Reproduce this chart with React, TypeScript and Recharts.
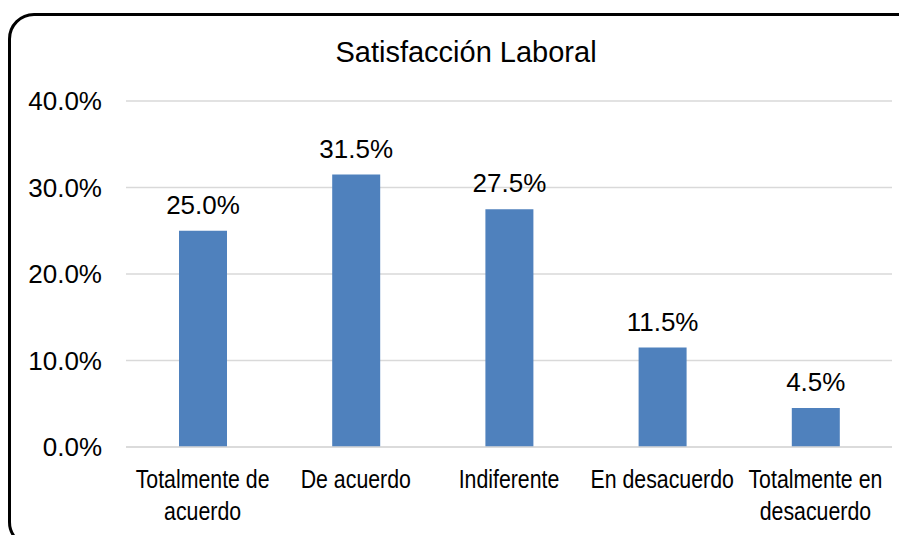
import { BarChart, Bar, XAxis, YAxis, CartesianGrid, LabelList } from "recharts";

const categories = [
    "Totalmente de acuerdo",
    "De acuerdo",
    "Indiferente",
    "En desacuerdo",
    "Totalmente en desacuerdo",
];
const categoryLines = [
    ["Totalmente de", "acuerdo"],
    ["De acuerdo"],
    ["Indiferente"],
    ["En desacuerdo"],
    ["Totalmente en", "desacuerdo"],
];
const values = [25.0, 31.5, 27.5, 11.5, 4.5];
const yTicks = [0, 10, 20, 30, 40];

const chartData = categories.map((name, i) => ({
    name,
    value: values[i],
}));

const FONT = "'Liberation Sans', Arial, sans-serif";

// the category labels in the original are a condensed face, squeeze them
function CategoryTick(props: any) {
    const { x, y, index } = props;
    const lines = categoryLines[index] ?? [String(props.payload?.value)];
    return (
        <text
            transform={`translate(${x},${y}) scale(0.82,1)`}
            x={0}
            y={0}
            textAnchor="middle"
            fill="#000"
            style={{ fontFamily: FONT, fontSize: 26 }}
        >
            {lines.map((line, i) => (
                <tspan key={i} x={0} y={41 + i * 32}>
                    {line}
                </tspan>
            ))}
        </text>
    );
}

export default function App() {
    return (
        <div style={{ width: 899, height: 522, overflow: "hidden", marginTop: 5 }}>
            <div
                style={{
                    position: "relative",
                    width: 930,
                    height: 535,
                    border: "3px solid #000",
                    borderRadius: 26,
                    boxSizing: "border-box",
                    background: "#fff",
                }}
            >
                <div
                    style={{
                        position: "absolute",
                        left: 0,
                        width: 910,
                        top: 18,
                        textAlign: "center",
                        fontFamily: FONT,
                        fontSize: 29,
                        color: "#000",
                        lineHeight: "36px",
                    }}
                >
                    Satisfacción Laboral
                </div>
                <div style={{ position: "absolute", left: 0, top: 0 }}>
                    <BarChart
                        width={892}
                        height={520}
                        data={chartData}
                        margin={{ top: 85, right: 11, bottom: 0, left: 0 }}
                        barSize={48}
                    >
                        <CartesianGrid
                            stroke="#d9d9d9"
                            strokeWidth={1.5}
                            vertical={false}
                        />
                        <XAxis
                            dataKey="name"
                            height={89}
                            tickLine={false}
                            tickSize={0}
                            tickMargin={0}
                            axisLine={{ stroke: "#d9d9d9", strokeWidth: 1.5 }}
                            tick={<CategoryTick />}
                            interval={0}
                        />
                        <YAxis
                            width={115}
                            domain={[0, 40]}
                            ticks={yTicks}
                            axisLine={false}
                            tickLine={false}
                            tickSize={0}
                            tickMargin={24}
                            tick={{ fill: "#000", fontSize: 26, fontFamily: FONT }}
                            tickFormatter={(v) => `${Number(v).toFixed(1)}%`}
                        />
                        <Bar dataKey="value" fill="#4f81bd" isAnimationActive={false}>
                            <LabelList
                                dataKey="value"
                                position="top"
                                offset={17}
                                formatter={(v: any) => `${Number(v).toFixed(1)}%`}
                                style={{ fill: "#000", fontSize: 26, fontFamily: FONT }}
                            />
                        </Bar>
                    </BarChart>
                </div>
            </div>
        </div>
    );
}
